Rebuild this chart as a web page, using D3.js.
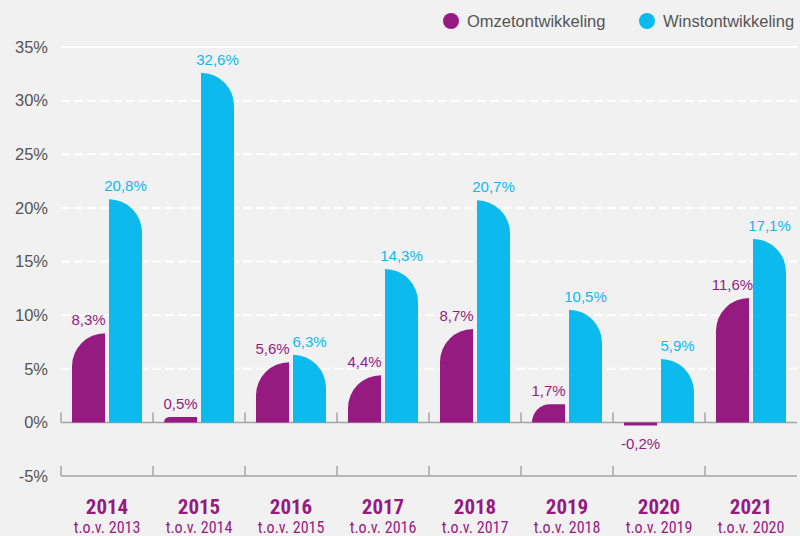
<!DOCTYPE html>
<html>
<head>
<meta charset="utf-8">
<script src="https://cdn.jsdelivr.net/npm/d3@7"></script>
<style>
  body { margin: 0; background: #f1f1f1; }
  svg { display: block; font-family: "Liberation Sans", Arial, sans-serif; }
</style>
</head>
<body>
<div class="chart"></div>
<script>
let years = ["2014", "2015", "2016", "2017", "2018", "2019", "2020", "2021"];
let baseYears = ["t.o.v. 2013", "t.o.v. 2014", "t.o.v. 2015", "t.o.v. 2016", "t.o.v. 2017", "t.o.v. 2018", "t.o.v. 2019", "t.o.v. 2020"];
let seriesNames = ["Omzetontwikkeling", "Winstontwikkeling"];
let omzet = [8.3, 0.5, 5.6, 4.4, 8.7, 1.7, -0.2, 11.6];
let winst = [20.8, 32.6, 6.3, 14.3, 20.7, 10.5, 5.9, 17.1];
let yTicks = [-5, 0, 5, 10, 15, 20, 25, 30, 35];

let W = 800, H = 536;
let purple = "#951b81", blue = "#0dbaed";
let colors = [purple, blue];
let narrow = "'Liberation Sans Narrow', 'Roboto Condensed', 'DejaVu Sans Condensed', sans-serif";

let svg = d3.select(".chart").append("svg")
  .attr("width", W).attr("height", H)
  .style("background-color", "#f1f1f1");

let xScale = d3.scaleBand().domain(years).range([61, 797]).padding(0);
let xSub = d3.scaleBand().domain(seriesNames).range([0, xScale.bandwidth()])
  .paddingInner(0.108).paddingOuter(0.297);
let yScale = d3.scaleLinear().domain([-5, 35]).range([476, 47]);

let fmt = v => d3.format(".1f")(v).replace(".", ",").replace("\u2212", "-") + "%";

// gridlines
let grid = svg.append("g");
yTicks.forEach(t => {
  if (t <= 0) return;
  grid.append("line")
    .attr("x1", 61).attr("x2", 797)
    .attr("y1", yScale(t)).attr("y2", yScale(t))
    .attr("stroke", "white")
    .attr("stroke-width", 2)
    .attr("stroke-dasharray", t == 35 ? null : "9,4");
});

// y labels
svg.append("g").selectAll("text").data(yTicks).join("text")
  .attr("x", 48)
  .attr("y", d => yScale(d))
  .attr("dy", "0.35em")
  .attr("text-anchor", "end")
  .attr("font-size", "16.5px")
  .attr("fill", "#555")
  .text(d => d + "%");

// axis lines with ticks at 0 and -5
[0, -5].forEach(v => {
  let g = svg.append("g");
  g.append("line")
    .attr("x1", 61).attr("x2", 797)
    .attr("y1", yScale(v)).attr("y2", yScale(v))
    .attr("stroke", "#a5a5a5").attr("stroke-width", 1.5);
  g.selectAll(".tk").data(years).join("line")
    .attr("class", "tk")
    .attr("x1", d => xScale(d)).attr("x2", d => xScale(d))
    .attr("y1", yScale(v) - 10).attr("y2", yScale(v))
    .attr("stroke", "#a5a5a5").attr("stroke-width", 1.5);
});

function barPath(x, w, v, roundLeft) {
  let y0 = yScale(0), y1 = yScale(v);
  if (v < 0) {
    return "M" + x + "," + y0 + "H" + (x + w) + "V" + (y1 + 1) + "H" + x + "Z";
  }
  let h = y0 - y1;
  let r = Math.min(w, h);
  if (roundLeft) {
    return "M" + x + "," + y0 + "V" + (y1 + r) +
      "A" + r + "," + r + " 0 0 1 " + (x + r) + "," + y1 +
      "H" + (x + w) + "V" + y0 + "Z";
  }
  return "M" + x + "," + y0 + "V" + y1 + "H" + (x + w - r) +
    "A" + r + "," + r + " 0 0 1 " + (x + w) + "," + (y1 + r) +
    "V" + y0 + "Z";
}

let allSeries = [omzet, winst];
let bars = svg.append("g");
allSeries.forEach((vals, si) => {
  let name = seriesNames[si];
  let w = xSub.bandwidth();
  vals.forEach((v, i) => {
    let x = xScale(years[i]) + xSub(name);
    bars.append("path")
      .attr("d", barPath(x, w, v, si == 0))
      .attr("fill", colors[si]);
    bars.append("text")
      .attr("x", x + w / 2)
      .attr("y", v >= 0 ? yScale(v) - 8 : yScale(v) + 24)
      .attr("text-anchor", "middle")
      .attr("font-size", "15px")
      .attr("fill", colors[si])
      .text(fmt(v));
  });
});

// x labels
let xl = svg.append("g");
xl.selectAll(".yr").data(years).join("text")
  .attr("class", "yr")
  .attr("x", d => xScale(d) + xScale.bandwidth() / 2)
  .attr("y", 514)
  .attr("text-anchor", "middle")
  .attr("font-family", narrow)
  .attr("font-size", "21px")
  .attr("font-weight", "bold")
  .attr("fill", purple)
  .text(d => d);
xl.selectAll(".base").data(baseYears).join("text")
  .attr("class", "base")
  .attr("x", (d, i) => xScale(years[i]) + xScale.bandwidth() / 2)
  .attr("y", 533)
  .attr("text-anchor", "middle")
  .attr("font-family", narrow)
  .attr("font-size", "16px")
  .attr("fill", purple)
  .text(d => d);

// legend
let legendX = [451, 647];
let legend = svg.append("g");
seriesNames.forEach((n, i) => {
  legend.append("circle")
    .attr("cx", legendX[i]).attr("cy", 21).attr("r", 8)
    .attr("fill", colors[i]);
  legend.append("text")
    .attr("x", legendX[i] + 16).attr("y", 27)
    .attr("font-size", "16.5px")
    .attr("fill", "#555")
    .text(n);
});
</script>
</body>
</html>
